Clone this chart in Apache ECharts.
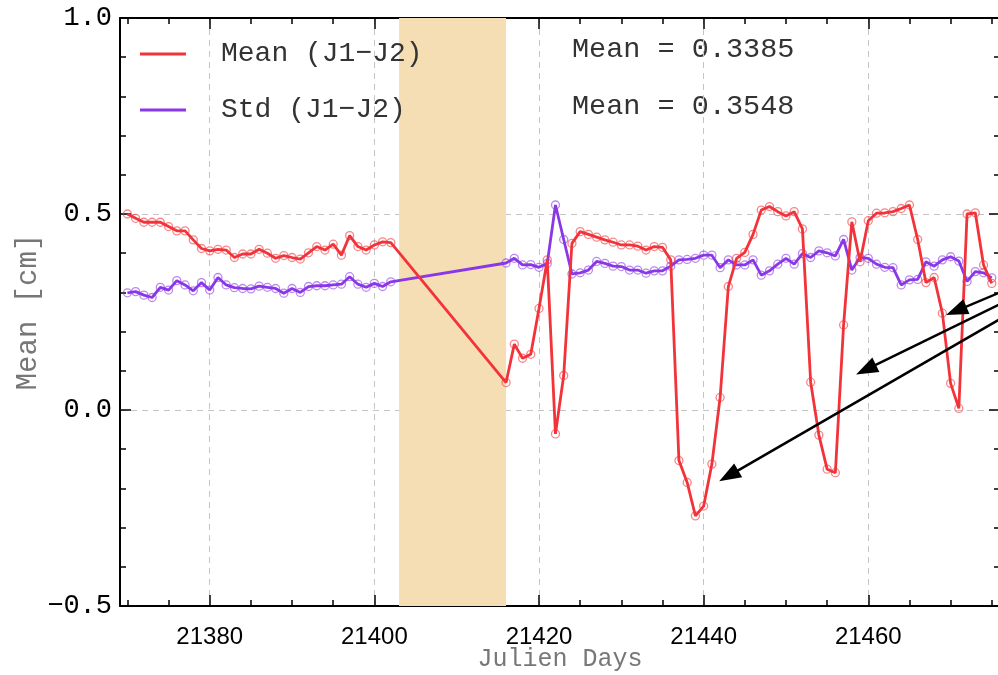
<!DOCTYPE html>
<html>
<head>
<meta charset="utf-8">
<script src="https://cdn.jsdelivr.net/npm/echarts@6/dist/echarts.min.js"></script>
<style>
  html, body { margin: 0; padding: 0; background: #ffffff; }
  #chart { width: 998px; height: 675px; }
</style>
</head>
<body>
<div id="chart"></div>
<script>
// Daily J1-J2 differences (Julian day numbers); no data inside the shaded gap
const days = [
  21370, 21371, 21372, 21373, 21374, 21375, 21376, 21377, 21378, 21379,
  21380, 21381, 21382, 21383, 21384, 21385, 21386, 21387, 21388, 21389,
  21390, 21391, 21392, 21393, 21394, 21395, 21396, 21397, 21398, 21399,
  21400, 21401, 21402,
  21416, 21417, 21418, 21419, 21420, 21421, 21422, 21423, 21424, 21425,
  21426, 21427, 21428, 21429, 21430, 21431, 21432, 21433, 21434, 21435,
  21436, 21437, 21438, 21439, 21440, 21441, 21442, 21443, 21444, 21445,
  21446, 21447, 21448, 21449, 21450, 21451, 21452, 21453, 21454, 21455,
  21456, 21457, 21458, 21459, 21460, 21461, 21462, 21463, 21464, 21465,
  21466, 21467, 21468, 21469, 21470, 21471, 21472, 21473, 21474, 21475
];

const meanJ1J2 = [
  0.500, 0.489, 0.479, 0.479, 0.479, 0.468, 0.457, 0.457, 0.434, 0.412,
  0.406, 0.410, 0.408, 0.389, 0.398, 0.398, 0.410, 0.400, 0.387, 0.394,
  0.389, 0.385, 0.401, 0.417, 0.408, 0.423, 0.395, 0.445, 0.417, 0.408,
  0.421, 0.429, 0.427,
  0.070, 0.168, 0.132, 0.142, 0.259, 0.383, -0.061, 0.088, 0.425, 0.455,
  0.448, 0.441, 0.434, 0.428, 0.421, 0.421, 0.418, 0.408, 0.417, 0.415,
  0.383, -0.129, -0.185, -0.270, -0.245, -0.138, 0.032, 0.315, 0.387, 0.402,
  0.448, 0.510, 0.519, 0.506, 0.495, 0.506, 0.462, 0.071, -0.064, -0.151,
  -0.160, 0.217, 0.480, 0.378, 0.483, 0.502, 0.503, 0.506, 0.514, 0.523,
  0.435, 0.325, 0.338, 0.247, 0.068, 0.004, 0.500, 0.503, 0.370, 0.323
];

const stdJ1J2 = [
  0.299, 0.302, 0.293, 0.287, 0.313, 0.306, 0.330, 0.319, 0.304, 0.325,
  0.306, 0.338, 0.319, 0.312, 0.310, 0.309, 0.316, 0.313, 0.310, 0.298,
  0.310, 0.300, 0.315, 0.317, 0.317, 0.319, 0.321, 0.340, 0.321, 0.313,
  0.323, 0.315, 0.327,
  0.375, 0.387, 0.370, 0.371, 0.364, 0.374, 0.523, 0.435, 0.347, 0.350,
  0.357, 0.379, 0.374, 0.367, 0.366, 0.357, 0.357, 0.349, 0.355, 0.355,
  0.367, 0.383, 0.384, 0.387, 0.395, 0.395, 0.363, 0.383, 0.370, 0.370,
  0.383, 0.344, 0.355, 0.372, 0.387, 0.372, 0.399, 0.389, 0.406, 0.401,
  0.393, 0.435, 0.357, 0.389, 0.387, 0.372, 0.364, 0.363, 0.319, 0.332,
  0.333, 0.378, 0.367, 0.383, 0.391, 0.380, 0.328, 0.353, 0.350, 0.337
];

const seriesNames = ['Mean (J1\u2212J2)', 'Std (J1\u2212J2)'];
const seriesMeanText = ['Mean = 0.3385', 'Mean = 0.3548'];

// Data gap (shaded band) in Julian days
const gapBand = [21403, 21416];

// Axis extents and tick values
const xRange = [21369.1, 21476];
const yRange = [-0.5, 1.0];
const xMajorTicks = [21380, 21400, 21420, 21440, 21460];
const xMinorTicks = [
  21370, 21375, 21385, 21390, 21395, 21405, 21410, 21415, 21425, 21430,
  21435, 21445, 21450, 21455, 21465, 21470, 21475
];

// Annotation arrows: [from, to] in (day, value); "to" is the arrowhead centre
const arrowsFrom = [[21476, 0.300], [21476, 0.270], [21476, 0.232]];
const arrowsTo = [[21470.68, 0.253], [21459.72, 0.103], [21443.04, -0.168]];

const RED = '#f2333a';
const PURPLE = '#8a38e6';
const FRAME = '#000000';
const GRIDLINE = '#c4c4c4';
const MONO = "'Liberation Mono', monospace";

const chart = echarts.init(document.getElementById('chart'), null, { renderer: 'canvas' });

function toPairs(xs, ys) {
  return xs.map((x, i) => [x, ys[i]]);
}

function xAxisDef(position, ticks, len, withLine, withLabels) {
  return {
    type: 'value',
    position: position,
    min: xRange[0],
    max: xRange[1],
    axisLine: { show: withLine, onZero: false, lineStyle: { color: FRAME, width: 2 } },
    axisTick: {
      show: true, inside: true, length: len, customValues: ticks,
      lineStyle: { color: FRAME, width: 1.5 }
    },
    axisLabel: withLabels ? {
      show: true, customValues: xMajorTicks, margin: 19,
      color: '#000', fontSize: 24, fontFamily: "'Liberation Sans Narrow', 'Liberation Sans', sans-serif",
      formatter: v => String(v)
    } : { show: false },
    splitLine: withLabels ? { show: true, lineStyle: { color: GRIDLINE, type: [6, 5], width: 1 } } : { show: false }
  };
}

const xAxes = [
  Object.assign(xAxisDef('bottom', xMajorTicks, 11, true, true), {
    name: 'Julien Days', nameLocation: 'middle', nameGap: 41, nameMoveOverlap: false,
    nameTextStyle: { color: '#777', fontSize: 25, fontFamily: MONO }
  }),
  xAxisDef('bottom', xMinorTicks, 6, false, false),
  xAxisDef('top', xMajorTicks, 11, true, false),
  xAxisDef('top', xMinorTicks, 6, false, false)
];

function yAxisDef(position, withLabels) {
  return {
    type: 'value',
    position: position,
    min: yRange[0],
    max: yRange[1],
    interval: 0.5,
    axisLine: { show: true, onZero: false, lineStyle: { color: FRAME, width: 2 } },
    axisTick: { show: true, inside: true, length: 11, lineStyle: { color: FRAME, width: 1.5 } },
    minorTick: { show: true, splitNumber: 5, length: 6, lineStyle: { color: FRAME, width: 1.5 } },
    axisLabel: withLabels ? {
      show: true, margin: 8, color: '#000', fontSize: 27,
      fontFamily: MONO,
      formatter: v => v.toFixed(1).replace('-', '\u2212')
    } : { show: false },
    splitLine: withLabels ? { show: true, lineStyle: { color: GRIDLINE, type: [6, 5], width: 1 } } : { show: false }
  };
}

const yAxes = [
  Object.assign(yAxisDef('left', true), {
    name: 'Mean [cm]', nameLocation: 'middle', nameGap: 77, nameMoveOverlap: false,
    nameTextStyle: { color: '#777', fontSize: 29, fontFamily: MONO }
  }),
  yAxisDef('right', false)
];

const markerStyle = (color) => ({
  color: 'rgba(255,255,255,0)',
  borderColor: color,
  borderWidth: 1.3,
  opacity: 0.6
});

const option = {
  animation: false,
  backgroundColor: '#ffffff',
  grid: { left: 120, right: -2, top: 18, bottom: 69, containLabel: false, outerBoundsMode: 'none' },
  xAxis: xAxes,
  yAxis: yAxes,
  legend: {
    show: true,
    orient: 'vertical',
    left: 135,
    top: 34,
    itemWidth: 46,
    itemHeight: 3,
    itemGap: 26,
    icon: 'rect',
    selectedMode: false,
    textStyle: {
      color: '#333', fontSize: 28, lineHeight: 30,
      fontFamily: MONO,
      padding: [0, 0, 0, 30]
    },
    data: [
      { name: seriesNames[0], itemStyle: { color: RED, borderWidth: 0, opacity: 1 } },
      { name: seriesNames[1], itemStyle: { color: PURPLE, borderWidth: 0, opacity: 1 } }
    ]
  },
  graphic: seriesMeanText.map((t, i) => ({
    type: 'text',
    left: 572,
    top: 35 + i * 57,
    silent: true,
    style: {
      text: t,
      fill: '#333',
      font: "28.5px 'Liberation Mono', monospace"
    }
  })),
  series: [
    {
      name: seriesNames[1],
      type: 'line',
      xAxisIndex: 0,
      yAxisIndex: 0,
      z: 2,
      data: toPairs(days, stdJ1J2),
      symbol: 'circle',
      symbolSize: 8,
      showSymbol: true,
      lineStyle: { color: PURPLE, width: 2.8 },
      itemStyle: markerStyle(PURPLE),
      markArea: {
        silent: true,
        itemStyle: { color: '#f5deb3', opacity: 1 },
        data: [[{ xAxis: gapBand[0] }, { xAxis: gapBand[1] }]]
      }
    },
    {
      name: seriesNames[0],
      type: 'line',
      xAxisIndex: 0,
      yAxisIndex: 0,
      z: 3,
      data: toPairs(days, meanJ1J2),
      symbol: 'circle',
      symbolSize: 8,
      showSymbol: true,
      lineStyle: { color: RED, width: 2.8 },
      itemStyle: markerStyle(RED),
      markLine: {
        silent: true,
        animation: false,
        symbol: ['none', 'triangle'],
        symbolSize: [16, 22],
        label: { show: false },
        lineStyle: { color: '#000', width: 2.5, type: 'solid', opacity: 1 },
        emphasis: { disabled: true },
        data: arrowsFrom.map((f, i) => [{ coord: f }, { coord: arrowsTo[i] }])
      }
    }
  ]
};

chart.setOption(option);
</script>
</body>
</html>
